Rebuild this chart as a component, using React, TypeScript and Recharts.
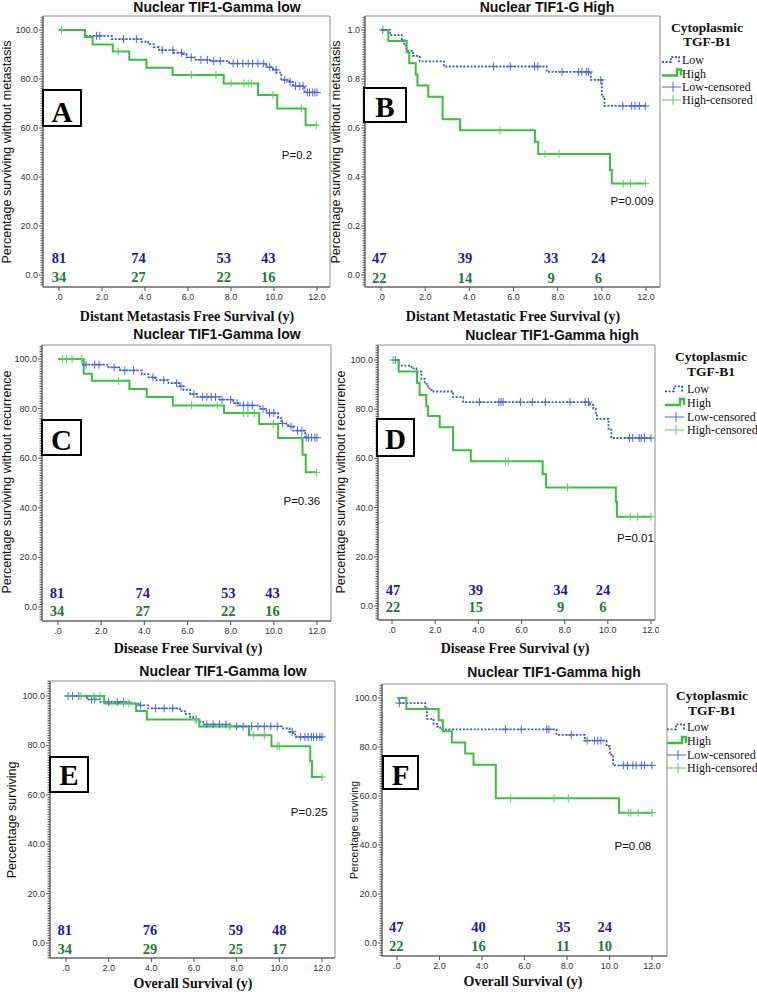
import React from 'react'
import { ComposedChart, Line, Scatter, XAxis, YAxis, ReferenceArea } from 'recharts'

const SANS = '"Liberation Sans", Arial, sans-serif'
const SERIF = '"Liberation Serif", "Times New Roman", serif'
const BLUE = '#3a58cf'
const GREEN = '#3cbf3c'
const BLUE_CENS = '#4a68dd'
const GREEN_CENS = '#5ccf5c'
const BLUE_TXT = '#1a1ca6'
const GREEN_TXT = '#1b7c38'

const X_TICKS = [0, 2, 4, 6, 8, 10, 12]

// ---- A: distant metastasis free survival, nuclear TIF1-gamma low
const A_LOW_T = [0, 1.21, 2.45, 3.84, 4.15, 4.4, 4.65, 5.31, 5.77, 5.93, 6.36, 7.14, 7.91, 9.64, 9.95, 10.11, 10.34, 10.73, 10.88, 11.42, 12]
const A_LOW_S = [100, 97.6, 96.3, 95.2, 94.2, 93.0, 91.8, 90.7, 90.2, 88.8, 87.8, 87.3, 86.3, 84.8, 83.7, 82.6, 79.6, 78.8, 77.1, 74.5, 74.5]
const A_LOW_CENS = [1.75, 1.9, 3.0, 3.6, 4.8, 5.3, 5.7, 6.15, 6.6, 6.9, 7.2, 7.5, 8.1, 8.3, 8.55, 8.8, 9.0, 9.25, 9.5, 9.8, 10.1, 10.5, 10.75, 11.0, 11.2, 11.35, 11.55, 11.65, 11.8, 11.9, 12.0]
const A_HIGH_T = [0, 1.2, 1.56, 2.5, 3.27, 4.07, 5.28, 7.66, 9.26, 10.15, 11.47, 12]
const A_HIGH_S = [100, 97.1, 94.1, 91.2, 87.8, 84.6, 81.6, 78.2, 73.5, 68.0, 61.1, 61.1]
const A_HIGH_CENS = [0.12, 2.75, 6.16, 7.3, 8.0, 8.6, 8.8, 8.95, 9.95, 11.27, 11.97]
const A_RISK_X = [0, 3.7, 7.66, 9.73]
const A_RISK_LOW = [81, 74, 53, 43]
const A_RISK_HIGH = [34, 27, 22, 16]

// ---- B: distant metastatic free survival, nuclear TIF1-G high
const B_LOW_T = [0, 0.41, 0.94, 1.05, 1.15, 1.45, 1.75, 2.85, 7.5, 9.5, 10.0, 10.12, 12]
const B_LOW_S = [100, 97.9, 95.7, 93.6, 91.5, 89.4, 87.2, 85.1, 82.9, 79.6, 72.8, 69.0, 69.0]
const B_LOW_CENS = [0.08, 5.1, 5.85, 6.95, 7.1, 8.2, 8.95, 9.1, 9.3, 9.4, 9.95, 10.95, 11.35, 11.5, 11.7, 11.97]
const B_HIGH_T = [0, 0.33, 1.16, 1.28, 1.57, 1.65, 2.14, 2.79, 3.58, 6.97, 7.12, 10.37, 10.45, 12]
const B_HIGH_S = [100, 95.5, 90.9, 86.4, 81.8, 77.3, 72.7, 63.6, 59.1, 54.4, 49.4, 42.9, 37.3, 37.3]
const B_HIGH_CENS = [5.39, 7.43, 8.06, 10.97, 11.3, 11.97]
const B_RISK_X = [-0.08, 3.8, 7.7, 9.84]
const B_RISK_LOW = [47, 39, 33, 24]
const B_RISK_HIGH = [22, 14, 9, 6]

// ---- C: disease free survival, nuclear TIF1-gamma low
const C_LOW_T = [0, 1.15, 2.34, 2.88, 3.88, 4.19, 4.5, 5.12, 5.65, 5.81, 6.12, 6.43, 7.5, 8.12, 8.35, 9.35, 9.66, 10.2, 10.35, 10.66, 10.9, 11.45, 12]
const C_LOW_S = [100, 97.7, 96.6, 95.4, 93.9, 92.6, 91.5, 90.3, 89.0, 87.6, 85.9, 84.7, 83.6, 82.2, 81.3, 79.9, 78.2, 76.2, 74.0, 72.8, 71.1, 68.3, 68.3]
const C_LOW_CENS = [1.3, 1.7, 1.9, 2.6, 3.1, 3.5, 4.4, 4.9, 5.5, 5.7, 6.3, 6.7, 6.9, 7.1, 7.3, 7.6, 8.0, 8.3, 8.6, 8.8, 9.0, 9.5, 9.8, 10.0, 10.4, 10.8, 11.1, 11.3, 11.5, 11.6, 11.75, 11.9, 12.0]
const C_HIGH_T = [0, 1.19, 1.57, 3.31, 4.11, 5.32, 7.69, 9.32, 10.2, 11.33, 11.48, 12]
const C_HIGH_S = [100, 94.1, 91.2, 87.9, 84.7, 81.3, 78.2, 73.8, 68.1, 61.4, 54.3, 54.3]
const C_HIGH_CENS = [0.2, 0.4, 0.65, 1.1, 2.8, 6.19, 7.38, 8.6, 8.8, 9.1, 9.97, 11.28, 11.97]
const C_RISK_X = [-0.05, 3.93, 7.89, 9.94]
const C_RISK_LOW = [81, 74, 53, 43]
const C_RISK_HIGH = [34, 27, 22, 16]

// ---- D: disease free survival, nuclear TIF1-gamma high
const D_LOW_T = [0, 0.31, 0.9, 1.13, 1.36, 1.52, 1.67, 1.83, 2.83, 3.3, 9.18, 9.33, 9.44, 9.49, 10.03, 10.16, 12]
const D_LOW_S = [100, 97.7, 96.6, 95.3, 92.3, 90.3, 88.5, 87.2, 84.9, 82.9, 81.8, 80.2, 78.1, 76.1, 72.1, 68.3, 68.3]
const D_LOW_CENS = [0.15, 4.05, 4.95, 5.05, 5.15, 5.95, 6.5, 7.1, 8.25, 8.95, 9.1, 11.0, 11.15, 11.45, 11.55, 11.7, 12.0]
const D_HIGH_T = [0, 0.31, 1.16, 1.28, 1.59, 1.67, 2.21, 2.83, 3.65, 6.98, 7.14, 10.37, 10.42, 12]
const D_HIGH_S = [100, 95.3, 90.7, 85.8, 81.2, 77.2, 72.7, 63.3, 58.8, 53.6, 48.2, 42.4, 36.3, 36.3]
const D_HIGH_CENS = [0.05, 5.26, 5.39, 8.13, 11.04, 11.38, 12.0]
const D_RISK_X = [0.05, 3.88, 7.81, 9.77]
const D_RISK_LOW = [47, 39, 34, 24]
const D_RISK_HIGH = [22, 15, 9, 6]

// ---- E: overall survival, nuclear TIF1-gamma low
const E_LOW_T = [0, 0.98, 1.6, 3.08, 3.4, 3.86, 5.34, 5.57, 5.81, 5.96, 6.28, 6.43, 7.68, 10.17, 10.48, 10.64, 10.79, 12]
const E_LOW_S = [100, 98.6, 97.6, 96.9, 96.2, 95.0, 93.9, 92.8, 91.6, 90.5, 89.6, 88.5, 87.7, 86.9, 85.5, 84.5, 83.4, 83.4]
const E_LOW_CENS = [0.1, 0.3, 0.6, 1.2, 1.35, 2.0, 2.4, 2.7, 3.5, 4.2, 4.6, 5.0, 6.1, 6.6, 6.9, 7.2, 7.5, 8.0, 8.3, 8.7, 9.0, 9.3, 9.6, 9.9, 10.6, 11.0, 11.2, 11.35, 11.5, 11.6, 11.75, 11.9, 12.0]
const E_HIGH_T = [0, 1.79, 3.29, 3.79, 6.25, 8.58, 9.63, 11.45, 11.53, 12]
const E_HIGH_S = [100, 97.0, 93.9, 90.5, 87.6, 84.1, 79.7, 73.6, 67.2, 67.2]
const E_HIGH_CENS = [0.12, 0.7, 1.3, 1.6, 2.7, 2.95, 6.1, 7.68, 8.8, 9.3, 9.9, 10.0, 12.0]
const E_RISK_X = [-0.06, 3.94, 7.96, 10.0]
const E_RISK_LOW = [81, 76, 59, 48]
const E_RISK_HIGH = [34, 29, 25, 17]

// ---- F: overall survival, nuclear TIF1-gamma high
const F_LOW_T = [0, 0.11, 1.33, 1.41, 1.72, 1.88, 2.03, 7.51, 8.84, 9.86, 10.02, 10.17, 12]
const F_LOW_S = [100, 97.9, 95.7, 91.5, 89.4, 88.3, 87.2, 84.9, 82.6, 80.3, 76.9, 72.5, 72.5]
const F_LOW_CENS = [0.11, 5.1, 5.85, 7.05, 7.15, 8.2, 8.95, 9.3, 9.45, 9.6, 10.65, 10.85, 11.1, 11.25, 11.5, 11.65, 12.0]
const F_HIGH_T = [0, 0.44, 1.96, 2.16, 2.58, 3.21, 3.6, 4.65, 10.45, 12]
const F_HIGH_S = [100, 95.5, 90.9, 86.4, 81.8, 77.3, 72.7, 59.1, 53.2, 53.2]
const F_HIGH_CENS = [5.35, 7.39, 8.06, 10.9, 11.0, 11.35, 12.0]
const F_RISK_X = [-0.03, 3.83, 7.82, 9.78]
const F_RISK_LOW = [47, 40, 35, 24]
const F_RISK_HIGH = [22, 16, 11, 10]

const P_TEXT = ['P=0.2', 'P=0.009', 'P=0.36', 'P=0.01', 'P=0.25', 'P=0.08']

function steps(t: number[], s: number[]) {
  return t.map((x, i) => ({ t: x, s: s[i] }))
}

// censored marks sit on the curve at their time
function censMarks(t: number[], s: number[], c: number[]) {
  return c.map(ct => {
    let v = s[0]
    for (let i = 0; i < t.length; i++) if (t[i] <= ct) v = s[i]
    return { t: ct, s: v }
  })
}

function riskRow(xs: number[], ns: number[], y: number) {
  return xs.map((x, i) => ({ t: x, s: y, label: String(ns[i]) }))
}

type Frame = { l: number; t: number; r: number; b: number }

interface Panel {
  letter: string
  title: string
  titleX: number
  titleY: number
  xLabel: string
  xLabelX: number
  xLabelY: number
  yLabel: string
  yLabelX: number
  yLabelY: number
  yLabelSize: number
  frame: Frame
  xDomain: [number, number]
  yDomain: [number, number]
  fraction?: boolean
  low: { t: number; s: number }[]
  high: { t: number; s: number }[]
  lowCens: { t: number; s: number }[]
  highCens: { t: number; s: number }[]
  riskLow: { t: number; s: number; label: string }[]
  riskHigh: { t: number; s: number; label: string }[]
  p: { t: number; s: number; label: string }[]
  box: { x: number; y: number; w: number; h: number; base: number }
  legend?: { cx: number; titleY: [number, number]; symX: number; textX: number; items: number[] }
}

const PANELS: Panel[] = [
  {
    letter: 'A', title: 'Nuclear TIF1-Gamma low', titleX: 217, titleY: 11.5,
    xLabel: 'Distant Metastasis Free Survival (y)', xLabelX: 187, xLabelY: 321,
    yLabel: 'Percentage surviving without metastasis', yLabelX: 11, yLabelY: 152, yLabelSize: 12.5,
    frame: { l: 43, t: 16, r: 330, b: 287 }, xDomain: [-0.744, 12.605], yDomain: [-4.9, 105.7],
    low: steps(A_LOW_T, A_LOW_S), high: steps(A_HIGH_T, A_HIGH_S),
    lowCens: censMarks(A_LOW_T, A_LOW_S, A_LOW_CENS), highCens: censMarks(A_HIGH_T, A_HIGH_S, A_HIGH_CENS),
    riskLow: riskRow(A_RISK_X, A_RISK_LOW, 7.1), riskHigh: riskRow(A_RISK_X, A_RISK_HIGH, -0.7),
    p: [{ t: 11.07, s: 49, label: P_TEXT[0] }],
    box: { x: 43, y: 90, w: 38, h: 36, base: 121.5 },
  },
  {
    letter: 'B', title: 'Nuclear TIF1-G High', titleX: 547, titleY: 11.5,
    xLabel: 'Distant Metastatic Free Survival (y)', xLabelX: 513, xLabelY: 321,
    yLabel: 'Percentage surviving without metastasis', yLabelX: 339.5, yLabelY: 152, yLabelSize: 12.5,
    frame: { l: 365, t: 16, r: 660, b: 287 }, xDomain: [-0.725, 12.634], yDomain: [-4.9, 105.7], fraction: true,
    low: steps(B_LOW_T, B_LOW_S), high: steps(B_HIGH_T, B_HIGH_S),
    lowCens: censMarks(B_LOW_T, B_LOW_S, B_LOW_CENS), highCens: censMarks(B_HIGH_T, B_HIGH_S, B_HIGH_CENS),
    riskLow: riskRow(B_RISK_X, B_RISK_LOW, 6.8), riskHigh: riskRow(B_RISK_X, B_RISK_HIGH, -1.1),
    p: [{ t: 11.37, s: 30.2, label: P_TEXT[1] }],
    box: { x: 364, y: 88, w: 42, h: 34, base: 116.7 },
    legend: { cx: 707, titleY: [32, 45.7], symX: 662, textX: 682, items: [64, 77.5, 91, 104] },
  },
  {
    letter: 'C', title: 'Nuclear TIF1-Gamma low', titleX: 217, titleY: 338.7,
    xLabel: 'Disease Free Survival (y)', xLabelX: 188, xLabelY: 653,
    yLabel: 'Percentage surviving without recurrence', yLabelX: 10.5, yLabelY: 482, yLabelSize: 12.5,
    frame: { l: 42, t: 345, r: 331, b: 621 }, xDomain: [-0.741, 12.649], yDomain: [-5.65, 105.65],
    low: steps(C_LOW_T, C_LOW_S), high: steps(C_HIGH_T, C_HIGH_S),
    lowCens: censMarks(C_LOW_T, C_LOW_S, C_LOW_CENS), highCens: censMarks(C_HIGH_T, C_HIGH_S, C_HIGH_CENS),
    riskLow: riskRow(C_RISK_X, C_RISK_LOW, 5.6), riskHigh: riskRow(C_RISK_X, C_RISK_HIGH, -1.7),
    p: [{ t: 11.3, s: 42.7, label: P_TEXT[2] }],
    box: { x: 42, y: 420, w: 39, h: 35, base: 449.7 },
  },
  {
    letter: 'D', title: 'Nuclear TIF1-Gamma high', titleX: 552, titleY: 339.7,
    xLabel: 'Disease Free Survival (y)', xLabelX: 515, xLabelY: 653,
    yLabel: 'Percentage surviving without recurrence', yLabelX: 344.5, yLabelY: 482, yLabelSize: 12.5,
    frame: { l: 378, t: 345, r: 655, b: 620 }, xDomain: [-0.649, 12.185], yDomain: [-5.69, 106.1],
    low: steps(D_LOW_T, D_LOW_S), high: steps(D_HIGH_T, D_HIGH_S),
    lowCens: censMarks(D_LOW_T, D_LOW_S, D_LOW_CENS), highCens: censMarks(D_HIGH_T, D_HIGH_S, D_HIGH_CENS),
    riskLow: riskRow(D_RISK_X, D_RISK_LOW, 6.6), riskHigh: riskRow(D_RISK_X, D_RISK_HIGH, -0.5),
    p: [{ t: 11.28, s: 27.5, label: P_TEXT[3] }],
    box: { x: 377, y: 419, w: 37, h: 37, base: 448.5 },
    legend: { cx: 711, titleY: [361.3, 376.3], symX: 665, textX: 687, items: [393.3, 407, 421, 434] },
  },
  {
    letter: 'E', title: 'Nuclear TIF1-Gamma low', titleX: 223, titleY: 676.3,
    xLabel: 'Overall Survival (y)', xLabelX: 193, xLabelY: 987.5,
    yLabel: 'Percentage surviving', yLabelX: 16, yLabelY: 820, yLabelSize: 12.5,
    frame: { l: 50, t: 681, r: 335, b: 958 }, xDomain: [-0.75, 12.61], yDomain: [-6.07, 106.07],
    low: steps(E_LOW_T, E_LOW_S), high: steps(E_HIGH_T, E_HIGH_S),
    lowCens: censMarks(E_LOW_T, E_LOW_S, E_LOW_CENS), highCens: censMarks(E_HIGH_T, E_HIGH_S, E_HIGH_CENS),
    riskLow: riskRow(E_RISK_X, E_RISK_LOW, 5.1), riskHigh: riskRow(E_RISK_X, E_RISK_HIGH, -2.3),
    p: [{ t: 11.4, s: 53, label: P_TEXT[4] }],
    box: { x: 50, y: 757, w: 38, h: 35, base: 784.7 },
  },
  {
    letter: 'F', title: 'Nuclear TIF1-Gamma high', titleX: 554, titleY: 677.3,
    xLabel: 'Overall Survival (y)', xLabelX: 523, xLabelY: 986,
    yLabel: 'Percentage surviving', yLabelX: 358, yLabelY: 830, yLabelSize: 10.5,
    frame: { l: 382, t: 684, r: 667, b: 956 }, xDomain: [-0.706, 12.706], yDomain: [-5.3, 105.7],
    low: steps(F_LOW_T, F_LOW_S), high: steps(F_HIGH_T, F_HIGH_S),
    lowCens: censMarks(F_LOW_T, F_LOW_S, F_LOW_CENS), highCens: censMarks(F_HIGH_T, F_HIGH_S, F_HIGH_CENS),
    riskLow: riskRow(F_RISK_X, F_RISK_LOW, 6.4), riskHigh: riskRow(F_RISK_X, F_RISK_HIGH, -1.1),
    p: [{ t: 11.1, s: 39.6, label: P_TEXT[5] }],
    box: { x: 383, y: 756, w: 35, h: 33, base: 785 },
    legend: { cx: 712, titleY: [700.3, 714.7], symX: 667, textX: 687, items: [731.3, 745, 759, 772] },
  },
]

const YW = 40
const XH = 26
const TOP = 4
const RIGHT = 4

function crossShape(color: string) {
  return (props: any) => {
    const { cx, cy } = props
    if (cx == null || cy == null) return <g />
    return <path d={`M${cx - 4},${cy}h8M${cx},${cy - 4}v8`} stroke={color} strokeWidth={1} fill="none" />
  }
}

function textShape(color: string, size: number, family: string, weight: string) {
  return (props: any) => {
    const { cx, cy } = props
    const label = props.payload?.label ?? props.label
    if (cx == null || cy == null) return <g />
    return (
      <text x={cx} y={cy} dy="0.35em" textAnchor="middle" fontSize={size} fontFamily={family} fontWeight={weight} fill={color}>
        {label}
      </text>
    )
  }
}

function YTick(props: any) {
  const { x, y, payload, fraction } = props
  const v = payload.value
  const major = v % 20 === 0 && v >= 0 && v <= 100
  const txt = fraction ? (v / 100).toFixed(1) : v.toFixed(1)
  return (
    <g>
      <line x1={x - (major ? 4 : 2.5)} x2={x} y1={y} y2={y} stroke="#555" strokeWidth={1} />
      {major && (
        <text x={x - 5} y={y} dy={3} textAnchor="end" fontSize={9} fontFamily={SANS} fill="#333">
          {txt}
        </text>
      )}
    </g>
  )
}

function KMPanel({ cfg }: { cfg: Panel }) {
  const { frame, xDomain, yDomain } = cfg
  const w = frame.r - frame.l + YW + RIGHT
  const h = frame.b - frame.t + TOP + XH
  const yTicks: number[] = []
  for (let v = Math.ceil(yDomain[0]); v <= Math.floor(yDomain[1]); v++) yTicks.push(v)
  return (
    <div style={{ position: 'absolute', left: frame.l - YW, top: frame.t - TOP }}>
      <ComposedChart width={w} height={h} margin={{ top: TOP, right: RIGHT, left: 0, bottom: 0 }}>
        <XAxis
          type="number"
          dataKey="t"
          domain={xDomain}
          allowDataOverflow
          ticks={X_TICKS}
          interval={0}
          height={XH}
          tickFormatter={(v: number) => (v === 0 ? '.0' : v.toFixed(1))}
          tick={{ fontSize: 9, fontFamily: SANS, fill: '#333' }}
          tickSize={4}
          tickMargin={3}
          stroke="#555"
        />
        <YAxis
          type="number"
          domain={yDomain}
          allowDataOverflow
          ticks={yTicks}
          interval={0}
          width={YW}
          tickLine={false}
          tickSize={0}
          tickMargin={0}
          stroke="#555"
          tick={(p: any) => <YTick {...p} fraction={cfg.fraction} />}
        />
        <ReferenceArea
          x1={xDomain[0]}
          x2={xDomain[1]}
          y1={yDomain[0]}
          y2={yDomain[1]}
          fill="none"
          fillOpacity={0}
          stroke="#8c8c8c"
          strokeWidth={1}
          ifOverflow="visible"
        />
        <Line data={cfg.low} dataKey="s" type="stepAfter" stroke={BLUE} strokeWidth={1.8} strokeDasharray="2 1.6" dot={false} activeDot={false} isAnimationActive={false} />
        <Line data={cfg.high} dataKey="s" type="stepAfter" stroke={GREEN} strokeWidth={2} dot={false} activeDot={false} isAnimationActive={false} />
        <Scatter data={cfg.lowCens} dataKey="s" shape={crossShape(BLUE_CENS)} isAnimationActive={false} />
        <Scatter data={cfg.highCens} dataKey="s" shape={crossShape(GREEN_CENS)} isAnimationActive={false} />
        <Scatter data={cfg.riskLow} dataKey="s" shape={textShape(BLUE_TXT, 14.5, SERIF, 'bold')} isAnimationActive={false} />
        <Scatter data={cfg.riskHigh} dataKey="s" shape={textShape(GREEN_TXT, 14.5, SERIF, 'bold')} isAnimationActive={false} />
        <Scatter data={cfg.p} dataKey="s" shape={textShape('#111', 11.5, SANS, 'normal')} isAnimationActive={false} />
      </ComposedChart>
    </div>
  )
}

function LegendBlock({ lg }: { lg: NonNullable<Panel['legend']> }) {
  const sx = lg.symX
  const [yLow, yHigh, yLc, yHc] = lg.items
  return (
    <g>
      <text x={lg.cx} y={lg.titleY[0]} textAnchor="middle" fontFamily={SERIF} fontWeight="bold" fontSize={13.5} fill="#111">Cytoplasmic</text>
      <text x={lg.cx} y={lg.titleY[1]} textAnchor="middle" fontFamily={SERIF} fontWeight="bold" fontSize={13.5} fill="#111">TGF-B1</text>
      <path d={`M${sx},${yLow - 2}H${sx + 9}V${yLow - 7}H${sx + 17}V${yLow - 1}`} stroke={BLUE} strokeWidth={1.8} strokeDasharray="2 1.6" fill="none" />
      <path d={`M${sx},${yHigh - 2}H${sx + 15}V${yHigh - 8}H${sx + 19}V${yHigh - 2}`} stroke={GREEN} strokeWidth={2.4} fill="none" />
      <path d={`M${sx},${yLc - 4}H${sx + 19}M${sx + 11},${yLc - 9}V${yLc + 1}`} stroke={BLUE_CENS} strokeWidth={1} fill="none" />
      <path d={`M${sx},${yHc - 4}H${sx + 19}M${sx + 11},${yHc - 9}V${yHc + 1}`} stroke={GREEN_CENS} strokeWidth={1} fill="none" />
      {['Low', 'High', 'Low-censored', 'High-censored'].map((t, i) => (
        <text key={t} x={lg.textX} y={lg.items[i]} fontFamily={SERIF} fontSize={12} fill="#111">{t}</text>
      ))}
    </g>
  )
}

function PanelText({ cfg }: { cfg: Panel }) {
  const b = cfg.box
  return (
    <g>
      <text x={cfg.titleX} y={cfg.titleY} textAnchor="middle" fontFamily={SANS} fontWeight="bold" fontSize={14} fill="#111">{cfg.title}</text>
      <text x={cfg.xLabelX} y={cfg.xLabelY} textAnchor="middle" fontFamily={SERIF} fontWeight="bold" fontSize={14} fill="#111">{cfg.xLabel}</text>
      <text
        transform={`translate(${cfg.yLabelX},${cfg.yLabelY}) rotate(-90)`}
        textAnchor="middle"
        fontFamily={SANS}
        fontSize={cfg.yLabelSize}
        fill="#111"
      >
        {cfg.yLabel}
      </text>
      <rect x={b.x} y={b.y} width={b.w} height={b.h} fill="#fff" stroke="#000" strokeWidth={2} />
      <text x={b.x + b.w / 2} y={b.base} textAnchor="middle" fontFamily={SERIF} fontWeight="bold" fontSize={29} fill="#000">{cfg.letter}</text>
      {cfg.legend && <LegendBlock lg={cfg.legend} />}
    </g>
  )
}

export default function App() {
  return (
    <div style={{ position: 'absolute', left: 0, top: 0, width: 757, height: 992, background: '#fff', overflow: 'hidden' }}>
      {PANELS.map(p => (
        <KMPanel key={p.letter} cfg={p} />
      ))}
      <svg width={757} height={992} style={{ position: 'absolute', left: 0, top: 0, pointerEvents: 'none' }}>
        {PANELS.map(p => (
          <PanelText key={p.letter} cfg={p} />
        ))}
      </svg>
    </div>
  )
}
